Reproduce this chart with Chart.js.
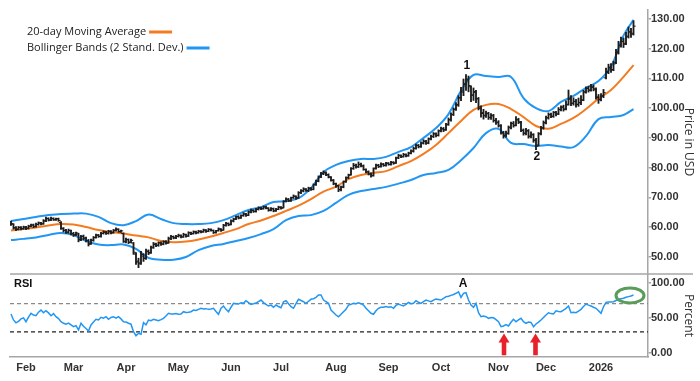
<!DOCTYPE html>
<html><head><meta charset="utf-8">
<script src="https://cdn.jsdelivr.net/npm/chart.js@4.4.1/dist/chart.umd.min.js"></script>
<style>
html,body{margin:0;padding:0;background:#fff;}
#wrap{position:relative;width:700px;height:381px;overflow:hidden;background:#fff;}
#main{position:absolute;left:0;top:0;width:700px;height:290px;}
#rsi{position:absolute;left:0;top:274px;width:700px;height:107px;}
</style></head><body>
<div id="wrap">
<div id="main"><canvas id="c1" width="700" height="275"></canvas></div>
<div id="rsi"><canvas id="c2" width="700" height="107"></canvas></div>
</div>
<script>
// ---- DATA (trading-day index 0 = 24 Jan 2025 ... 249 = 22 Jan 2026) ----
const monthIdx = [6,25,46,67,88,108,130,151,172,195,214,236];
const monthLabels = ['Feb','Mar','Apr','May','Jun','Jul','Aug','Sep','Oct','Nov','Dec','2026'];
const priceTicks = [50,60,70,80,90,100,110,120,130];
const rsiTicks = [0,50,100];

const opens = [
60.8,60.9,59.8,59.3,59.9,59.5,60.0,59.6,60.3,60.7,
60.2,60.8,61.4,61.1,62.0,62.9,62.4,62.8,62.4,62.8,
61.5,59.4,58.9,58.3,58.8,57.8,57.4,57.6,55.8,56.9,
56.3,55.5,54.4,55.5,56.5,57.2,56.9,57.8,58.2,57.9,
58.5,58.1,58.8,59.2,58.4,57.8,55.0,55.7,54.9,54.6,
50.9,48.5,47.9,50.2,49.6,51.7,51.4,53.2,54.1,53.9,
54.7,54.3,55.1,54.7,56.0,56.7,56.4,56.8,57.1,56.7,
57.4,57.0,58.0,57.8,58.3,58.1,58.5,58.4,58.9,58.6,
59.1,58.8,58.2,58.8,59.2,59.0,60.5,61.1,60.9,62.0,
62.7,63.5,63.1,63.9,64.3,64.0,65.0,65.5,65.3,65.9,
66.4,66.2,66.7,66.3,65.7,66.1,65.5,66.0,66.6,66.5,
68.7,69.4,68.9,69.9,70.3,69.9,71.6,72.1,72.7,72.2,
73.1,72.7,74.4,75.5,76.9,78.0,78.2,77.5,76.7,75.7,
74.5,73.9,72.6,73.5,75.3,76.6,77.6,79.7,80.7,80.3,
81.0,80.5,79.3,78.6,77.8,77.4,79.8,80.7,80.4,81.1,
80.8,81.4,81.1,81.7,81.6,83.3,84.0,83.7,84.3,84.0,
84.9,85.5,86.5,87.4,87.1,88.2,88.8,88.3,89.7,90.4,
91.3,90.9,92.4,93.0,92.8,94.6,96.0,97.9,99.7,101.0,
103.6,105.4,108.0,109.8,107.2,104.5,105.3,103.2,99.9,98.5,
97.6,98.1,96.9,97.4,95.9,95.3,94.0,91.6,90.8,91.6,
93.4,94.9,94.3,96.0,95.2,92.5,91.6,92.5,90.6,91.0,
89.3,87.6,91.5,93.3,95.0,96.7,97.8,97.3,98.6,98.1,
99.5,100.4,99.7,101.3,103.0,101.7,102.2,101.3,101.9,102.8,
105.4,106.7,106.1,107.0,106.2,103.8,102.9,104.2,110.2,112.0,
113.8,113.0,115.4,118.9,121.0,122.5,121.8,124.2,125.6,125.2];
const highs = [
62.0,61.1,60.1,60.2,60.1,60.3,60.2,60.6,61.0,61.0,
61.3,61.7,61.6,62.5,63.3,63.1,63.3,63.1,63.0,63.0,
61.8,59.8,59.2,59.3,59.0,58.2,58.3,57.9,57.2,57.3,
56.6,55.8,55.9,56.8,57.6,57.5,58.2,58.7,58.5,58.9,
58.8,59.2,59.7,59.4,59.0,58.0,56.3,56.0,55.9,54.8,
51.4,49.5,51.8,51.0,52.6,52.3,53.6,54.8,54.6,55.0,
55.0,55.4,55.4,56.6,57.2,57.0,57.2,57.6,57.4,57.9,
57.6,58.4,58.3,58.7,58.6,58.9,58.8,59.3,59.1,59.5,
59.4,59.0,58.9,59.7,59.5,60.9,61.6,61.4,62.4,63.0,
63.7,63.8,64.1,64.8,64.6,65.4,66.0,65.8,66.3,66.8,
66.7,67.1,67.0,66.5,66.5,66.4,66.3,67.0,66.9,68.9,
69.8,69.6,70.1,70.8,70.5,71.9,72.6,73.2,72.9,73.4,
73.3,74.5,75.8,77.2,78.4,78.9,78.6,77.9,77.0,76.0,
74.8,74.1,73.8,75.5,76.9,77.8,80.0,81.4,81.2,81.9,
81.5,80.9,79.6,78.9,78.2,79.9,81.2,81.1,81.6,81.4,
81.8,81.7,82.1,82.0,83.5,84.5,84.3,84.8,84.6,85.2,
86.0,86.9,87.9,87.8,88.7,89.4,89.2,90.0,90.9,91.8,
91.7,92.7,93.6,93.5,94.9,96.7,98.4,100.1,101.9,104.2,
107.0,109.8,111.3,110.8,107.5,106.8,106.0,103.6,100.8,99.6,
99.0,98.6,98.2,97.9,96.6,95.8,94.5,92.2,92.3,94.0,
95.3,95.5,97.2,96.6,95.6,93.0,93.2,92.8,92.0,91.4,
89.8,91.8,93.9,95.7,97.3,98.4,98.3,98.9,98.9,100.2,
100.8,101.0,102.5,106.1,104.2,103.5,103.0,103.4,104.2,106.0,
107.2,107.4,108.0,107.8,106.8,104.6,104.9,106.3,113.5,114.8,
115.0,115.8,119.8,122.5,123.9,123.6,125.5,127.3,126.9,129.4];
const lows = [
60.5,59.3,58.8,59.0,59.0,59.2,59.1,59.3,60.0,59.8,
59.9,60.6,60.7,60.9,61.8,62.0,62.1,62.2,62.2,61.9,
59.2,58.3,57.8,57.9,57.3,56.8,57.1,55.0,55.4,55.7,
55.0,53.6,54.1,55.2,56.2,56.5,56.6,57.6,57.5,57.6,
57.7,57.9,58.6,58.2,58.2,54.8,54.6,54.4,54.6,50.8,
47.4,46.3,47.4,48.4,49.1,50.7,51.1,52.8,53.4,53.5,
53.8,54.0,54.2,54.5,55.7,56.0,56.1,56.6,56.3,56.5,
56.6,56.8,57.4,57.6,57.7,57.9,58.0,58.2,58.2,58.4,
58.6,57.8,57.9,58.6,58.5,58.9,60.3,60.4,60.7,61.7,
62.5,62.7,62.9,63.6,63.6,63.8,64.7,64.9,65.0,65.7,
65.8,66.0,66.1,65.3,65.4,65.1,65.2,65.8,66.0,66.4,
68.4,68.5,68.6,69.6,69.3,69.6,71.2,71.8,72.0,71.9,
72.3,72.5,74.0,75.2,76.6,77.6,77.3,76.5,75.4,74.2,
73.3,71.9,72.1,73.2,75.0,76.3,77.4,79.4,79.8,80.0,
80.2,79.1,78.2,77.5,76.8,77.1,79.5,80.0,80.1,80.4,
80.5,80.8,80.8,81.1,81.4,83.0,83.3,83.5,83.6,83.8,
84.6,85.2,86.2,86.6,86.8,87.9,87.8,88.0,89.3,90.1,
90.3,90.6,92.0,92.1,92.5,94.2,95.6,97.5,99.2,100.6,
102.5,104.2,106.0,105.5,102.2,102.6,101.8,99.4,97.0,96.3,
96.9,96.2,96.2,95.3,94.5,93.6,91.2,89.9,90.2,91.2,
93.0,93.6,94.0,94.8,92.1,90.9,91.0,89.9,90.0,88.5,
86.0,87.3,91.0,92.9,94.7,96.3,96.8,96.9,97.4,97.8,
99.1,99.0,99.4,101.0,100.8,101.0,100.3,100.6,101.2,102.5,
105.0,105.4,105.7,105.8,103.0,101.6,102.4,103.5,109.8,111.6,
112.0,112.6,115.0,118.2,120.5,120.4,121.4,123.6,123.8,124.6];
const closes = [
61.2,59.6,59.2,59.8,59.4,59.9,59.5,60.2,60.6,60.1,
60.9,61.3,61.0,62.1,62.8,62.3,62.9,62.5,62.7,62.2,
59.6,58.8,58.2,58.9,57.7,57.3,58.0,55.6,56.8,56.2,
55.4,54.2,55.6,56.4,57.3,56.8,57.9,58.3,57.8,58.6,
58.0,58.9,59.3,58.5,58.7,55.2,55.8,54.8,55.5,51.5,
48.2,47.6,50.8,49.4,51.9,51.2,53.0,54.3,53.8,54.6,
54.2,55.0,54.5,56.2,56.8,56.3,56.9,57.2,56.6,57.5,
56.9,58.1,57.7,58.4,58.0,58.6,58.3,59.0,58.5,59.2,
58.9,58.1,58.7,59.4,58.8,60.6,61.2,60.7,62.1,62.6,
63.4,63.0,63.8,64.4,63.9,65.1,65.6,65.2,66.0,66.5,
66.1,66.8,66.4,65.6,66.2,65.4,65.9,66.7,66.3,68.6,
69.3,68.8,69.8,70.4,69.7,71.5,72.2,72.8,72.3,73.0,
72.6,74.2,75.4,76.8,77.9,78.4,77.6,76.9,75.8,74.6,
73.8,72.5,73.4,75.2,76.5,77.4,79.6,80.8,80.2,81.1,
80.6,79.4,78.5,77.9,77.2,79.6,80.8,80.3,81.2,80.7,
81.5,81.0,81.8,81.4,83.2,84.1,83.6,84.4,83.9,84.8,
85.6,86.4,87.5,87.0,88.3,88.9,88.2,89.6,90.5,91.4,
90.8,92.3,93.1,92.6,94.4,96.2,97.8,99.5,101.2,103.4,
105.8,108.2,109.5,107.6,104.3,105.6,103.1,100.4,98.2,97.4,
98.3,96.8,97.6,95.8,95.1,94.2,91.8,90.6,91.4,93.6,
94.8,94.1,96.2,95.4,92.6,91.5,92.3,90.4,91.2,89.1,
87.2,91.3,93.4,95.2,96.8,97.9,97.2,98.5,98.0,99.6,
100.3,99.6,101.1,103.2,101.6,102.3,101.2,101.8,102.6,105.5,
106.6,106.0,107.2,106.5,103.6,102.8,104.0,105.2,112.3,113.6,
112.8,114.9,118.6,121.2,122.4,121.5,124.0,125.7,124.9,127.6];

// 20-day MA and Bollinger bands, read every 5 trading days
const bandIdx = [0,5,10,15,20,25,30,35,40,45,50,55,60,65,70,75,80,85,90,95,100,105,110,115,120,125,130,135,140,145,150,155,160,165,170,175,180,185,190,195,200,205,210,215,220,225,230,235,240,245,249];
const upperBand = [62.0,62.7,63.4,64.0,64.4,64.5,64.5,63.4,61.3,60.6,62.0,64.2,62.7,61.3,61.0,61.0,61.3,62.3,64.0,65.7,66.7,68.4,68.7,69.7,73.1,78.5,80.9,82.2,82.9,82.9,83.6,85.3,86.9,90.0,93.3,98.0,105.8,111.2,110.8,110.5,110.5,103.4,100.0,99.0,102.1,104.1,106.8,109.1,114.0,124.4,129.7];
const movingAvg = [58.8,59.3,59.8,60.5,61.0,60.8,60.0,59.0,58.3,57.8,57.1,56.5,55.3,54.9,55.1,55.8,56.8,58.0,59.3,61.0,62.2,63.7,65.4,67.2,69.4,71.9,73.6,76.1,77.5,78.2,78.8,80.5,82.2,84.6,87.6,91.6,95.7,99.4,101.1,101.4,99.7,97.0,94.0,93.1,94.7,96.7,99.7,103.2,106.1,110.5,114.5];
const lowerBand = [55.6,56.0,56.5,57.3,58.0,57.3,55.3,54.1,53.9,54.1,52.6,49.6,49.0,49.0,49.9,52.2,53.6,54.3,55.3,56.3,57.6,59.3,62.3,63.7,64.0,65.4,68.1,70.8,72.1,72.8,73.5,74.6,75.8,77.5,78.2,79.2,82.5,86.6,91.6,93.0,88.3,87.9,87.3,87.6,87.1,86.9,90.6,96.3,97.0,97.7,99.7];

const rsi = [
55.4,47.0,43.0,45.0,48.5,50.0,44.5,51.0,56.4,54.0,
53.0,58.0,61.0,57.3,60.0,57.0,53.0,56.0,51.6,49.0,
44.5,42.3,41.0,42.5,40.0,37.5,39.0,32.8,42.3,38.0,
35.0,31.4,40.0,44.0,48.0,47.0,50.7,49.5,51.6,48.0,
50.5,51.6,49.5,51.6,48.5,44.5,44.0,42.3,41.0,30.4,
24.7,28.1,26.7,43.1,40.0,46.9,46.0,47.9,47.0,45.9,
47.5,49.3,52.5,56.4,55.5,55.4,56.0,55.0,55.4,58.7,
57.5,58.0,58.7,61.0,60.5,62.0,63.5,62.5,63.0,62.0,
62.5,63.5,59.0,55.0,63.5,66.7,62.0,58.7,65.0,70.5,
70.0,69.5,71.4,70.5,74.2,71.5,69.1,70.0,71.0,72.8,
75.2,71.5,69.0,66.7,68.0,64.9,68.1,66.0,64.3,72.8,
74.2,70.0,65.7,63.5,70.0,76.2,74.5,72.8,70.5,73.5,
76.2,77.0,79.0,82.3,82.3,75.2,73.0,70.5,61.0,57.5,
54.0,51.6,55.0,58.7,62.0,68.1,69.1,70.5,70.0,71.4,
70.0,68.1,63.5,60.0,56.4,55.0,60.0,63.5,65.0,64.9,
66.0,65.0,65.7,63.5,67.5,69.5,68.0,66.7,69.0,71.9,
70.0,70.5,74.2,72.0,70.5,73.0,75.2,74.0,72.8,75.0,
76.6,76.0,75.2,77.5,79.9,80.5,81.8,83.0,84.7,86.9,
79.0,84.7,85.5,75.2,68.1,64.9,70.5,57.2,51.6,52.5,
51.6,49.3,50.5,50.0,47.5,44.5,37.5,38.5,40.5,38.5,
43.7,47.9,44.5,47.0,49.3,44.5,42.3,44.0,43.5,37.5,
41.3,44.0,46.9,50.5,54.0,57.2,56.0,55.4,60.0,59.0,
58.7,61.0,63.5,66.7,57.2,58.0,57.2,59.5,62.0,66.0,
69.5,68.0,66.7,65.0,63.5,60.0,56.4,65.7,71.9,72.5,
72.3,72.8,74.5,76.2,77.0,77.6,79.0,80.0,81.0,82.3];
const rsiLevels = [70, 30];

// ---- STYLE ----
const ORANGE = '#f47b20', BLUE = '#2196f3', BAR = '#1c1c1c', AXIS = '#a6a6a6';
const XMIN = -0.4, XMAX = 254.8;
const tickFont = {family: '"Liberation Sans", Arial, sans-serif', size: 11, weight: 'bold'};
const titleFont = {family: '"Open Sans", sans-serif', size: 12};

const idx = closes.map((_, i) => i);
const pts = (xs, ys) => xs.map((x, k) => ({x: x, y: ys[k]}));
const noPad = s => { s.paddingTop = 0; s.paddingBottom = 0; s.paddingLeft = 0; s.paddingRight = 0; };

const mainAnnot = {
  id: 'mainAnnot',
  afterDraw(chart) {
    const {ctx, scales: {x, y}, chartArea} = chart;
    ctx.save();
    ctx.strokeStyle = AXIS; ctx.lineWidth = 1.5;
    ctx.beginPath(); ctx.moveTo(chartArea.left, chartArea.bottom); ctx.lineTo(693, chartArea.bottom); ctx.stroke();
    ctx.font = '11px "Open Sans", sans-serif';
    ctx.fillStyle = '#222'; ctx.textAlign = 'left'; ctx.textBaseline = 'middle';
    const items = [['20-day Moving Average', ORANGE, 32], ['Bollinger Bands (2 Stand. Dev.)', BLUE, 48]];
    items.forEach(([t, c, yy]) => {
      ctx.fillText(t, 27, yy);
      const w = ctx.measureText(t).width;
      ctx.strokeStyle = c; ctx.lineWidth = 3;
      ctx.beginPath(); ctx.moveTo(27 + w + 3, yy); ctx.lineTo(27 + w + 26, yy); ctx.stroke();
    });
    ctx.fillStyle = '#111'; ctx.textAlign = 'center';
    ctx.font = 'bold 12px "Liberation Sans", Arial, sans-serif';
    ctx.fillText('1', x.getPixelForValue(182.3), y.getPixelForValue(114.2));
    ctx.fillText('2', x.getPixelForValue(210.3), y.getPixelForValue(83.5));
    ctx.restore();
  }
};

const rsiAnnot = {
  id: 'rsiAnnot',
  afterDraw(chart) {
    const {ctx, scales: {x, y}} = chart;
    ctx.save();
    ctx.fillStyle = '#111'; ctx.textBaseline = 'middle';
    ctx.font = 'bold 11px "Liberation Sans", Arial, sans-serif';
    ctx.textAlign = 'left';
    ctx.fillText('RSI', 14, 10);
    ctx.textAlign = 'center';
    ctx.font = 'bold 12px "Liberation Sans", Arial, sans-serif';
    ctx.fillText('A', x.getPixelForValue(180.8), y.getPixelForValue(99));
    ctx.fillStyle = '#e8202a';
    [197.2, 209.8].forEach(v => {
      const cx = x.getPixelForValue(v);
      const tip = y.getPixelForValue(28), base = y.getPixelForValue(-3);
      ctx.beginPath();
      ctx.moveTo(cx, tip);
      ctx.lineTo(cx + 5.5, tip + 9);
      ctx.lineTo(cx + 2.3, tip + 9);
      ctx.lineTo(cx + 2.3, base);
      ctx.lineTo(cx - 2.3, base);
      ctx.lineTo(cx - 2.3, tip + 9);
      ctx.lineTo(cx - 5.5, tip + 9);
      ctx.closePath(); ctx.fill();
    });
    ctx.strokeStyle = '#5a9c5a'; ctx.lineWidth = 3;
    ctx.beginPath();
    ctx.ellipse(x.getPixelForValue(247.6), y.getPixelForValue(81.6), 14, 7.5, 0, 0, Math.PI * 2);
    ctx.stroke();
    ctx.restore();
  }
};

const yRight = (ticksArr, min, max, title) => ({
  position: 'right', min: min, max: max,
  afterBuildTicks: s => { s.ticks = ticksArr.map(v => ({value: v})); },
  afterFit: s => { s.width = 52; noPad(s); },
  ticks: {callback: v => Number(v).toFixed(2), font: tickFont, color: '#333', padding: 0},
  grid: {drawOnChartArea: false, drawTicks: true, tickLength: 3, color: AXIS, lineWidth: 1.5},
  border: {display: true, color: AXIS, width: 1.5},
  title: {display: true, text: title, font: titleFont, color: '#333'}
});

Chart.defaults.animation = false;

const c1 = new Chart(document.getElementById('c1'), {
  type: 'line',
  data: {
    datasets: [
      {type: 'bar', data: idx.map(i => ({x: i, y: [lows[i], highs[i]]})), backgroundColor: BAR, borderWidth: 0, barThickness: 1.2, order: 1},
      {type: 'line', data: pts(idx.map(i => i - 0.35), opens), showLine: false, pointStyle: 'line', pointRadius: 1.3, pointBorderWidth: 1, pointBorderColor: BAR, order: 1},
      {type: 'line', data: pts(idx.map(i => i + 0.35), closes), showLine: false, pointStyle: 'line', pointRadius: 1.3, pointBorderWidth: 1, pointBorderColor: BAR, order: 1},
      {type: 'line', data: pts(bandIdx, upperBand), borderColor: BLUE, borderWidth: 2, pointRadius: 0, tension: 0.4, fill: false, order: 3},
      {type: 'line', data: pts(bandIdx, lowerBand), borderColor: BLUE, borderWidth: 2, pointRadius: 0, tension: 0.4, fill: false, order: 3},
      {type: 'line', data: pts(bandIdx, movingAvg), borderColor: ORANGE, borderWidth: 2, pointRadius: 0, tension: 0.4, fill: false, order: 2}
    ]
  },
  options: {
    responsive: false, maintainAspectRatio: false, animation: false, events: [],
    layout: {padding: {left: 10, top: 10, right: 0, bottom: 1}},
    plugins: {legend: {display: false}, tooltip: {enabled: false}},
    scales: {
      x: {type: 'linear', min: XMIN, max: XMAX, display: false, offset: false},
      y: yRight(priceTicks, 44.18, 133.03, 'Price in USD')
    }
  },
  plugins: [mainAnnot]
});
// keep the price panel's plot area on y = 10 .. 274
{
  const dy = Math.round(274 - c1.chartArea.bottom);
  if (dy !== 0) c1.resize(700, 275 + dy);
  const dt = Math.round(c1.chartArea.top - 10);
  if (dt !== 0) { c1.options.layout.padding.top = 10 - dt; c1.update('none'); }
}

new Chart(document.getElementById('c2'), {
  type: 'line',
  data: {
    datasets: [
      {data: pts(idx, rsi), borderColor: BLUE, borderWidth: 1.5, pointRadius: 0, tension: 0, fill: false},
      {data: [{x: XMIN, y: rsiLevels[0]}, {x: XMAX, y: rsiLevels[0]}], borderColor: '#8a8a8a', borderWidth: 1.3, borderDash: [4, 3], pointRadius: 0},
      {data: [{x: XMIN, y: rsiLevels[1]}, {x: XMAX, y: rsiLevels[1]}], borderColor: '#222', borderWidth: 1.3, borderDash: [4, 3], pointRadius: 0}
    ]
  },
  options: {
    responsive: false, maintainAspectRatio: false, animation: false, events: [],
    layout: {padding: {left: 10, top: 0, right: 0, bottom: 0}},
    plugins: {legend: {display: false}, tooltip: {enabled: false}},
    scales: {
      x: {
        type: 'linear', min: XMIN, max: XMAX, offset: false,
        afterBuildTicks: s => { s.ticks = monthIdx.map(v => ({value: v})); },
        afterFit: s => { s.height = 24; noPad(s); },
        ticks: {callback: (v, i) => monthLabels[i], autoSkip: false, maxRotation: 0, font: {family: '"Liberation Sans", Arial, sans-serif', size: 11, weight: 'bold'}, color: '#333', padding: 4},
        grid: {drawOnChartArea: false, drawTicks: false},
        border: {display: true, color: AXIS, width: 1.5}
      },
      y: yRight(rsiTicks, -5.4, 112, 'Percent')
    }
  },
  plugins: [rsiAnnot]
});
</script>
</body></html>
